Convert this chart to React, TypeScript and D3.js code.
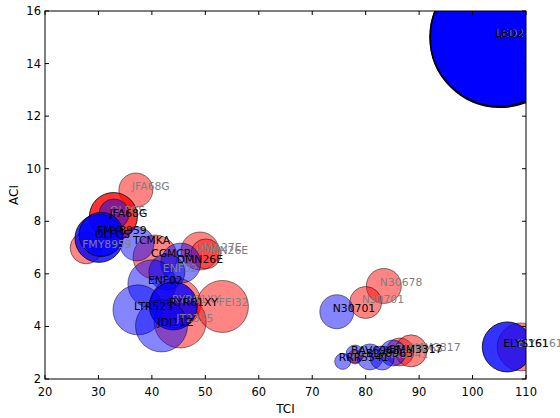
import React from "react";
import * as d3 from "d3";

// ---- data ----
const names = [
  "LED2", "JFA68G", "JFA68G", "FMY8959", "CGMCR", "DMA27E", "DMN26E", "RYR61XY",
  "JT2355", "FEI32", "N30678", "N30701", "BAV6963", "BLV8963", "BMM3317", "ELYS161",
  "LED2", "OLFCS", "OLFCS", "FMY8959", "TCMKA", "DMN26E", "ENF02", "ENF02",
  "LTR525", "RYR61XY", "JDI11Z", "N30701", "RRR5541", "BAV6963", "BLV8963", "BMM3317",
  "RRR5541", "ELYS161",
];
const tci = [
  105.15, 37.0, 32.8, 27.7, 40.6, 49.0, 50.1, 44.5,
  45.3, 53.2, 83.4, 80.0, 78.0, 86.4, 88.5, 109.1,
  105, 32.9, 30.1, 30.5, 37.2, 45.4, 42.8, 40.0,
  37.4, 44.0, 41.8, 74.6, 75.7, 78.0, 80.8, 85.1,
  83.1, 106.5,
];
const aci = [
  15, 9.19, 8.18, 6.99, 6.64, 6.87, 6.76, 4.89,
  4.17, 4.76, 5.54, 4.91, 2.84, 3.03, 3.07, 3.22,
  15, 8.28, 7.35, 7.5, 7.14, 6.41, 6.07, 5.62,
  4.63, 4.78, 4.02, 4.56, 2.67, 2.95, 2.84, 2.99,
  2.80, 3.22,
];
const volume = [
  4900, 289, 576, 256, 484, 361, 225, 625,
  676, 676, 306, 256, 49, 196, 256, 576,
  4761, 225, 576, 484, 289, 400, 324, 576,
  625, 576, 676, 289, 64, 81, 169, 169,
  144, 625,
];
const group = [
  "A", "A", "A", "A", "A", "A", "A", "A",
  "A", "A", "A", "A", "A", "A", "A", "A",
  "B", "B", "B", "B", "B", "B", "B", "B",
  "B", "B", "B", "B", "B", "B", "B", "B",
  "B", "B",
];
const emphasis = [
  2, 0, 1, 0, 0, 0, 0, 0,
  0, 0, 0, 0, 0, 0, 0, 0,
  2, 0, 1, 1, 0, 0, 0, 0,
  0, 1, 0, 0, 0, 0, 0, 0,
  0, 1,
];
const series = [
  1, 1, 2, 1, 2, 1, 1, 1,
  1, 1, 1, 1, 1, 1, 1, 1,
  2, 1, 2, 2, 2, 2, 1, 2,
  2, 2, 2, 2, 2, 2, 2, 2,
  1, 2,
];
const xTicks = [20, 30, 40, 50, 60, 70, 80, 90, 100, 110];
const yTicks = [2, 4, 6, 8, 10, 12, 14, 16];

const W = 560, H = 418;
const M = { left: 45, right: 526, top: 11, bottom: 379 };
const FONT = "'DejaVu Sans', sans-serif";

export default function App() {
  const x = d3.scaleLinear().domain([20, 110]).range([M.left, M.right]);
  const y = d3.scaleLinear().domain([2, 16]).range([M.bottom, M.top]);
  const r = d3.scaleSqrt().domain([0, 4900]).range([0, 70]);
  const color = d3.scaleOrdinal<string, string>().domain(["A", "B"]).range(["#ff0000", "#0000ff"]);
  const alpha = d3.scaleOrdinal<number, number>().domain([0, 1, 2]).range([0.48, 0.8, 1]);
  const labelColor = d3.scaleOrdinal<number, string>().domain([1, 2]).range(["#808080", "#000000"]);

  const pts = names.map((n, i) => ({
    n, x: tci[i], y: aci[i], v: volume[i], g: group[i], e: emphasis[i], s: series[i],
  }));
  const order = [...pts.filter(p => p.g === "A"), ...pts.filter(p => p.g === "B")];
  const labelOrder = [...pts.filter(p => p.s === 1), ...pts.filter(p => p.s === 2)];

  const tick = 4;
  return (
    <svg width={W} height={H} style={{ position: "absolute", left: 0, top: 0, background: "#fff" }}
      fontFamily={FONT}>
      <defs>
        <clipPath id="plot">
          <rect x={M.left} y={M.top} width={M.right - M.left} height={M.bottom - M.top} />
        </clipPath>
      </defs>
      <rect x={0} y={0} width={W} height={H} fill="#fff" />
      <g clipPath="url(#plot)">
        {order.map((p, i) => (
          <circle key={i} cx={x(p.x)} cy={y(p.y)} r={r(p.v)}
            fill={color(p.g)} fillOpacity={alpha(p.e)}
            stroke="#000" strokeOpacity={alpha(p.e)} strokeWidth={p.e === 2 ? 1.5 : 1} />
        ))}
      </g>
      {/* frame */}
      <rect x={M.left} y={M.top} width={M.right - M.left} height={M.bottom - M.top}
        fill="none" stroke="#000" strokeWidth={1} />
      {/* ticks */}
      {xTicks.map(t => (
        <g key={"x" + t}>
          <line x1={x(t)} x2={x(t)} y1={M.bottom} y2={M.bottom - tick} stroke="#000" />
          <line x1={x(t)} x2={x(t)} y1={M.top} y2={M.top + tick} stroke="#000" />
          <text x={x(t)} y={M.bottom + 17} textAnchor="middle" fontSize={11.5} fill="#000">{t}</text>
        </g>
      ))}
      {yTicks.map(t => (
        <g key={"y" + t}>
          <line x1={M.left} x2={M.left + tick} y1={y(t)} y2={y(t)} stroke="#000" />
          <line x1={M.right} x2={M.right - tick} y1={y(t)} y2={y(t)} stroke="#000" />
          <text x={M.left - 4} y={y(t) + 4} textAnchor="end" fontSize={11.5} fill="#000">{t}</text>
        </g>
      ))}
      {/* point labels */}
      {labelOrder.map((p, i) => (
        <text key={"l" + i} x={x(p.x) - 4} y={y(p.y)} fontSize={10.8} fill={labelColor(p.s)}>{p.n}</text>
      ))}
      <text x={(M.left + M.right) / 2} y={413} textAnchor="middle" fontSize={12}>TCI</text>
      <text transform={`translate(18,${(M.top + M.bottom) / 2}) rotate(-90)`} textAnchor="middle" fontSize={12}>ACI</text>
    </svg>
  );
}
